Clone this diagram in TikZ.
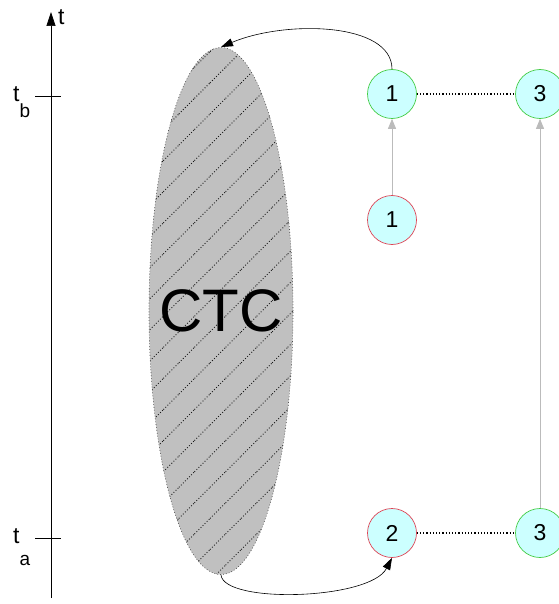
\documentclass[tikz,border=0pt]{standalone}
\usepackage{fontspec}
\setmainfont{Liberation Sans}
\usetikzlibrary{positioning,arrows.meta,shapes.geometric,patterns.meta}
\definecolor{cFill}{HTML}{CCFFFF}
\definecolor{cGood}{HTML}{44CC44}
\definecolor{cBad}{HTML}{DD4455}
\definecolor{cShade}{HTML}{C0C0C0}
\definecolor{cLink}{HTML}{BBBBBB}
\newcommand{\numsize}{\fontsize{23}{23}\selectfont}

\begin{document}
\begin{tikzpicture}[x=1pt,y=-1pt,
    event/.style={circle,minimum size=49pt,inner sep=0pt,fill=cFill,
                  line width=0.7pt,font=\numsize},
    goodev/.style={event,draw=cGood},
    badev/.style={event,draw=cBad},
    sameid/.style={cLink,line width=0.8pt,-{Triangle[length=10pt,width=8pt]}},
    jump/.style={black,line width=0.6pt,-{Triangle[length=12pt,width=8pt]}},
    pairline/.style={black,dotted,line width=1.2pt}]
    \useasboundingbox (0,0) rectangle (558,604);
    % time axis
    \coordinate (tlow) at (51,598);
    \coordinate (thigh) at (51,12);
    \draw[line width=0.7pt,-{Triangle[length=14pt,width=9pt]}] (tlow) -- (thigh);
    \node[anchor=base west,inner sep=0pt,font=\fontsize{23}{23}\selectfont] (tlab) at (58,25) {t};
    \draw[line width=0.7pt] (35,96) -- (61,96);
    \draw[line width=0.7pt] (35,538) -- (61,538);
    \node[anchor=base west,inner sep=0pt,font=\fontsize{23}{23}\selectfont] (tb) at (13,102)
      {t\raisebox{-16pt}{\fontsize{19}{19}\selectfont b}};
    \node[anchor=base west,inner sep=0pt,font=\fontsize{23}{23}\selectfont] (ta) at (13,543)
      {t\raisebox{-22pt}{\fontsize{19}{19}\selectfont a}};
    % closed timelike curve
    \node[ellipse,minimum width=144pt,minimum height=527pt,inner sep=0pt,
          draw=black!70,dotted,line width=0.6pt,
          preaction={fill=cShade},
          pattern={Lines[angle=45,distance=22pt,line width=0.9pt]},pattern color=black!90]
          (ctc) at (221,311) {};
    \node[font=\fontsize{60}{60}\selectfont,inner sep=0pt] (ctclab) at (ctc.center) {CTC};
    % events
    \node[goodev] (e1b) at (392,94) {1};
    \node[badev] (e1m) at (392,220) {1};
    \node[badev] (e2a) at (392,533) {2};
    \node[goodev] (e3b) at (540,94) {3};
    \node[goodev] (e3a) at (540,533) {3};
    \draw[sameid] (e1m) -- (e1b);
    \draw[sameid] (e3a) -- (e3b);
    \draw[pairline] (e1b) -- (e3b);
    \draw[pairline] (e2a) -- (e3a);
    \draw[jump] (e1b.north) .. controls (392,22) and (285,20) .. (ctc.north);
    \draw[jump] (ctc.south) .. controls (224,604) and (370,600) .. (e2a.south);
\end{tikzpicture}
\end{document}
